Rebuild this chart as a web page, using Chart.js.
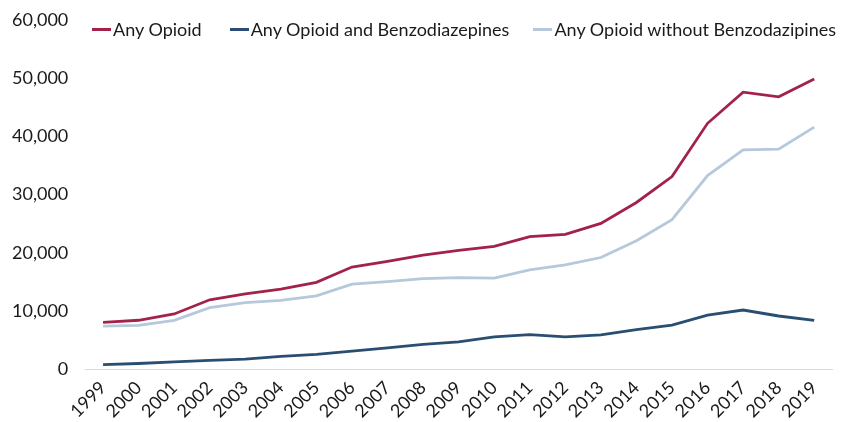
<!DOCTYPE html>
<html>
<head>
<meta charset="utf-8">
<script src="https://cdn.jsdelivr.net/npm/chart.js@4"></script>
<style>
    html, body { margin: 0; padding: 0; background: #fff; }
    #wrap { position: relative; width: 842px; height: 422px; }
    #legend {
        position: absolute; left: 0; width: 842px; top: 18px;
        display: flex; justify-content: flex-start; padding-left: 92px; box-sizing: border-box;
        font-family: Lato, "Open Sans", sans-serif; font-size: 18px; color: #1a1a1a;
    }
    .item { display: flex; align-items: center; white-space: nowrap; }
    .item:nth-child(1) { margin-right: 28px; }
    .item:nth-child(2) { margin-right: 24px; }
    .swatch { width: 19px; height: 3px; margin-right: 2px; }
</style>
</head>
<body>
<div id="wrap">
    <canvas id="chart" width="842" height="422"></canvas>
    <div id="legend"></div>
</div>
<script>
// Chart data
const years = ['1999', '2000', '2001', '2002', '2003', '2004', '2005', '2006', '2007', '2008', '2009',
               '2010', '2011', '2012', '2013', '2014', '2015', '2016', '2017', '2018', '2019'];

const anyOpioid = [8050, 8407, 9496, 11920, 12940, 13756, 14918, 17545, 18516, 19582, 20422,
                   21089, 22784, 23166, 25052, 28647, 33091, 42249, 47600, 46802, 49860];

const opioidWithBenzo = [800, 980, 1260, 1500, 1720, 2190, 2530, 3100, 3670, 4250, 4710,
                         5560, 5950, 5560, 5900, 6780, 7590, 9300, 10170, 9140, 8400];

const opioidWithoutBenzo = [7400, 7530, 8400, 10570, 11430, 11840, 12590, 14600, 15050, 15570, 15740,
                            15640, 17070, 17930, 19190, 22070, 25690, 33280, 37700, 37810, 41600];

const seriesNames = ['Any Opioid', 'Any Opioid and Benzodiazepines', 'Any Opioid without Benzodazipines'];
const seriesColors = ['#a3224a', '#2a4e72', '#b5c8dc'];

const FONT = 'Lato, "Open Sans", sans-serif';

function makeDataset(i, data) {
    return {
        label: seriesNames[i],
        data: data,
        borderColor: seriesColors[i],
        backgroundColor: seriesColors[i],
        borderWidth: 2.8,
        pointRadius: 0,
        tension: 0,
        fill: false
    };
}

const ctx = document.getElementById('chart').getContext('2d');

const chart = new Chart(ctx, {
    type: 'line',
    data: {
        labels: years,
        datasets: [
            makeDataset(0, anyOpioid),
            makeDataset(1, opioidWithBenzo),
            makeDataset(2, opioidWithoutBenzo)
        ]
    },
    options: {
        responsive: false,
        animation: false,
        layout: {
            padding: { top: 20, right: 10, left: -5, bottom: 0 }
        },
        plugins: {
            legend: { display: false },
            tooltip: { enabled: false }
        },
        scales: {
            x: {
                offset: true,
                grid: { display: false },
                border: { display: true, color: '#d9d9d9', width: 1 },
                ticks: {
                    color: '#1a1a1a',
                    font: { family: FONT, size: 18 },
                    minRotation: 45,
                    maxRotation: 45,
                    padding: 0
                }
            },
            y: {
                min: 0,
                max: 60000,
                grid: { display: false, drawTicks: false },
                border: { display: false },
                ticks: {
                    stepSize: 10000,
                    color: '#1a1a1a',
                    padding: 17,
                    font: { family: FONT, size: 18 },
                    callback: function(value) {
                        return value.toLocaleString('en-US');
                    }
                },
                // tick padding would also push the plot down; keep only the layout padding
                afterFit: function(scale) {
                    scale.paddingTop = 0;
                    scale.paddingBottom = 0;
                }
            }
        }
    }
});

// HTML legend
const legend = document.getElementById('legend');
seriesNames.forEach((name, i) => {
    const item = document.createElement('div');
    item.className = 'item';
    item.innerHTML = `<span class="swatch" style="background:${seriesColors[i]}"></span><span>${name}</span>`;
    legend.appendChild(item);
});
</script>
</body>
</html>
